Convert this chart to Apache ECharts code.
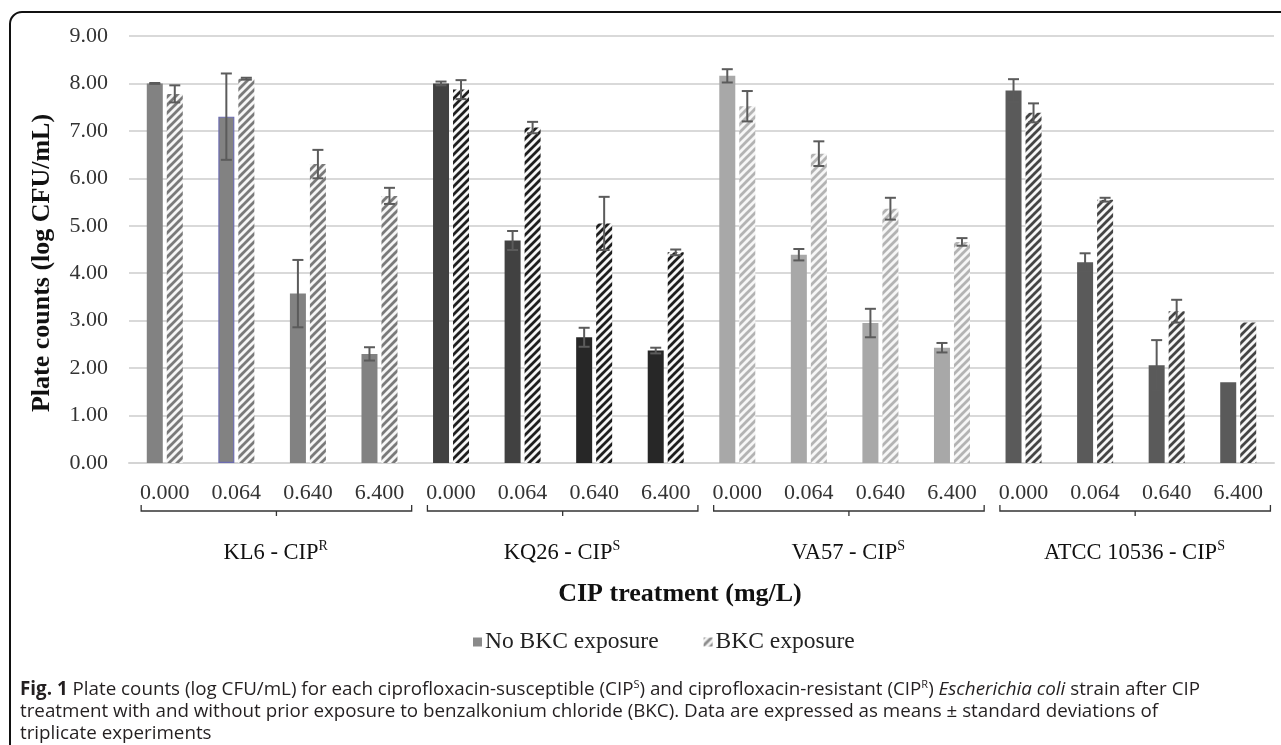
<!DOCTYPE html>
<html>
<head>
<meta charset="utf-8">
<script src="https://cdn.jsdelivr.net/npm/echarts@6/dist/echarts.min.js"></script>
<style>
html,body{margin:0;padding:0;background:#fff;}
#chart{width:1281px;height:745px;}
</style>
</head>
<body>
<div id="chart"></div>
<script>
// ---- data ----
const concentrations = ['0.000','0.064','0.640','6.400','0.000','0.064','0.640','6.400','0.000','0.064','0.640','6.400','0.000','0.064','0.640','6.400'];
const strainNames = ['KL6 - CIP', 'KQ26 - CIP', 'VA57 - CIP', 'ATCC 10536 - CIP'];
const strainSup = ['R', 'S', 'S', 'S'];
const yTicks = [0,1,2,3,4,5,6,7,8,9];
const noBkc    = [8.00, 7.30, 3.57, 2.30,  8.00, 4.69, 2.65, 2.37,  8.16, 4.39, 2.95, 2.43,  7.85, 4.23, 2.06, 1.70];
const noBkcErr = [0.01, 0.91, 0.71, 0.14,  0.04, 0.20, 0.20, 0.06,  0.14, 0.12, 0.30, 0.10,  0.24, 0.19, 0.53, 0.00];
const bkc      = [7.78, 8.10, 6.30, 5.63,  7.87, 7.07, 5.05, 4.44,  7.52, 6.52, 5.36, 4.66,  7.38, 5.55, 3.20, 2.96];
const bkcErr   = [0.18, 0.02, 0.30, 0.17,  0.20, 0.12, 0.56, 0.06,  0.32, 0.26, 0.23, 0.08,  0.20, 0.04, 0.24, 0.00];

// ---- styles ----
const solidColors = ['#828282','#828282','#828282','#828282','#414141','#414141','#272727','#272727','#a8a8a8','#a8a8a8','#a8a8a8','#a8a8a8','#5a5a5a','#5a5a5a','#5a5a5a','#5a5a5a'];
const hatchColors = ['#7a7a7a','#7a7a7a','#7a7a7a','#7a7a7a','#1e1e1e','#1e1e1e','#1e1e1e','#1e1e1e','#b3b3b3','#b3b3b3','#b3b3b3','#b3b3b3','#444444','#444444','#444444','#444444'];
const SERIF = '"Liberation Serif","Times New Roman",serif';
const BAR_W = 16, BAR_GAP = 4;

function hatch(color){
  const c = document.createElement('canvas');
  c.width = 8; c.height = 8;
  const ctx = c.getContext('2d');
  ctx.fillStyle = '#f6f6f6';
  ctx.fillRect(0,0,8,8);
  ctx.strokeStyle = color;
  ctx.lineWidth = 2.8;
  ctx.beginPath();
  ctx.moveTo(-2,10); ctx.lineTo(10,-2);
  ctx.moveTo(-2,2); ctx.lineTo(2,-2);
  ctx.moveTo(6,10); ctx.lineTo(10,6);
  ctx.stroke();
  return {image: c, repeat: 'repeat'};
}

const chart = echarts.init(document.getElementById('chart'), null, {renderer:'canvas'});

const noBkcData = noBkc.map((v,i)=>{
  const it = {value: v, itemStyle:{color: solidColors[i]}};
  if (i === 1) { it.itemStyle.borderColor = '#6c6cb0'; it.itemStyle.borderWidth = 1.2; }
  return it;
});
const bkcData = bkc.map((v,i)=>({value: v, itemStyle:{color: hatch(hatchColors[i])}}));

function errSeries(vals, errs, side){
  return {
    type: 'custom',
    z: 10,
    silent: true,
    data: vals.map((v,i)=>[i, v, errs[i]]),
    encode: {x: 0, y: 1},
    renderItem: function(params, api){
      const i = api.value(0), v = api.value(1), e = api.value(2);
      if (!e) return null;
      const off = side * (BAR_W + BAR_GAP) / 2;
      const top = api.coord([i, v + e]);
      const bot = api.coord([i, v - e]);
      const x = top[0] + off;
      const cap = 5.5;
      const st = {stroke: '#5b5b5b', lineWidth: 2};
      return {type:'group', children:[
        {type:'line', shape:{x1:x, y1:top[1], x2:x, y2:bot[1]}, style:st},
        {type:'line', shape:{x1:x-cap, y1:top[1], x2:x+cap, y2:top[1]}, style:st},
        {type:'line', shape:{x1:x-cap, y1:bot[1], x2:x+cap, y2:bot[1]}, style:st}
      ]};
    }
  };
}

const option = {
  animation: false,
  backgroundColor: '#fff',
  grid: {left: 129, right: 7, top: 36, bottom: 282, containLabel: false},
  xAxis: {
    type: 'category',
    data: concentrations,
    axisLine: {show: true, lineStyle: {color: '#d4d4d4', width: 2}},
    axisTick: {show: false},
    axisLabel: {color: '#333', fontFamily: SERIF, fontSize: 22, margin: 19, interval: 0}
  },
  yAxis: {
    type: 'value',
    min: 0, max: 9, interval: 1,
    axisLine: {show: false},
    axisTick: {show: false},
    splitLine: {lineStyle: {color: '#d9d9d9', width: 2}},
    axisLabel: {color: '#333', fontFamily: SERIF, fontSize: 22, margin: 21,
      formatter: v => (yTicks.indexOf(v) >= 0 ? v.toFixed(2) : '')}
  },
  legend: {
    data: ['No BKC exposure', 'BKC exposure'],
    left: 468, top: 625,
    itemWidth: 9, itemHeight: 9, itemGap: 45,
    icon: 'rect',
    textStyle: {fontFamily: SERIF, fontSize: 23.5, color: '#222', padding: [0,0,0,-2]}
  },
  series: [
    {name: 'No BKC exposure', type: 'bar', data: noBkcData, barWidth: BAR_W, barGap: (BAR_GAP/BAR_W*100)+'%',
     itemStyle: {color: '#8a8a8a'}},
    {name: 'BKC exposure', type: 'bar', data: bkcData, barWidth: BAR_W,
     itemStyle: {color: hatch('#8a8a8a')}},
    errSeries(noBkc, noBkcErr, -1),
    errSeries(bkc, bkcErr, 1)
  ]
};
chart.setOption(option);

// ---- decorations computed from the axis scale ----
function px(idx){ return chart.convertToPixel({xAxisIndex:0}, idx); }
const band = px(1) - px(0);
const graphics = [];
graphics.push({type:'rect', shape:{x:10, y:12, width:1320, height:800, r:12},
  style:{fill:'none', stroke:'#111', lineWidth:2}, silent:true, z:-1});
// y-axis title
graphics.push({type:'text', x: 42, y: 263, rotation: Math.PI/2,
  style:{text:'Plate counts (log CFU/mL)', fontFamily: SERIF, fontWeight:'bold', fontSize: 26, fill:'#111',
    align:'center', verticalAlign:'middle'}, silent:true});
const yBr = 511;
for (let g = 0; g < 4; g++){
  const x1 = px(4*g) - band*0.33;
  const x2 = px(4*g+3) + band*0.45;
  const xm = (px(4*g) + px(4*g+3))/2 + band*0.06;
  graphics.push({type:'polyline', shape:{points:[[x1,yBr-6],[x1,yBr],[x2,yBr],[x2,yBr-6]]},
    style:{stroke:'#333', lineWidth:1.3, fill:null}, silent:true});
  graphics.push({type:'line', shape:{x1:xm, y1:yBr, x2:xm, y2:yBr+5},
    style:{stroke:'#333', lineWidth:1.3}, silent:true});
  graphics.push({type:'text', x: (px(4*g) + px(4*g+3))/2 + band*0.05, y: 553,
    style:{text: strainNames[g] + '{sup|' + strainSup[g] + '}', fontFamily: SERIF, fontSize: 22.5, fill:'#111',
      align:'center', verticalAlign:'middle', lineHeight: 28,
      rich:{sup:{fontFamily: SERIF, fontSize: 14, verticalAlign:'top', lineHeight: 28, fill:'#111'}}}, silent:true});
}
graphics.push({type:'text', x: 680, y: 594,
  style:{text:'CIP treatment (mg/L)', fontFamily: SERIF, fontWeight:'bold', fontSize: 26, fill:'#111',
    align:'center', verticalAlign:'middle'}, silent:true});

const CAP = '"Open Sans", "Noto Sans", sans-serif';
const FS = 18.8;
const capRich = {
  b:{fontFamily: CAP, fontWeight:'bold', fontSize: FS, fill:'#231f20', lineHeight: 22},
  i:{fontFamily: CAP, fontStyle:'italic', fontSize: FS, fill:'#231f20', lineHeight: 22},
  sup:{fontFamily: CAP, fontSize: 11, fill:'#231f20', verticalAlign:'top', lineHeight: 22},
  n:{fontFamily: CAP, fontSize: FS, fill:'#231f20', lineHeight: 22}
};
const capLines = [
  '{b|Fig. 1}{n| Plate counts (log CFU/mL) for each ciprofloxacin-susceptible (CIP}{sup|S}{n|) and ciprofloxacin-resistant (CIP}{sup|R}{n|) }{i|Escherichia coli}{n| strain after CIP}',
  '{n|treatment with and without prior exposure to benzalkonium chloride (BKC). Data are expressed as means ± standard deviations of}',
  '{n|triplicate experiments}'
];
capLines.forEach((t, k) => {
  graphics.push({type:'text', x: 20, y: 690 + k*22,
    style:{text: t, rich: capRich, align:'left', verticalAlign:'middle', fontFamily: CAP, fontSize: FS, fill:'#231f20'}, silent:true});
});
chart.setOption({graphic: graphics});
</script>
</body>
</html>
